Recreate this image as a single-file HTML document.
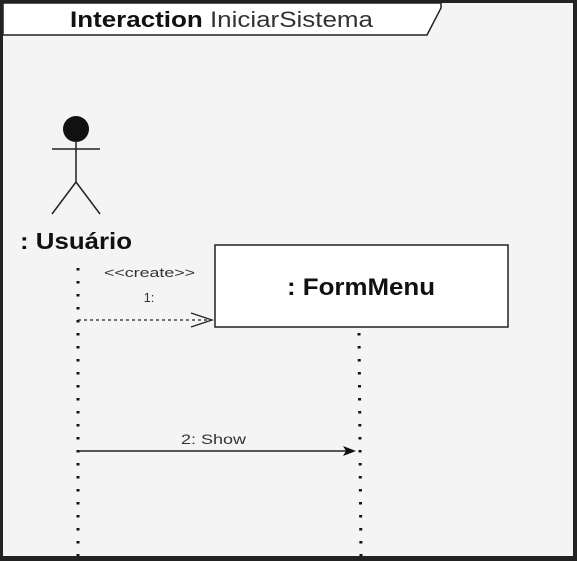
<!DOCTYPE html>
<html><head><style>
html,body{margin:0;padding:0;background:#222;}
svg{display:block;}
</style></head><body>
<svg width="577" height="561" xmlns="http://www.w3.org/2000/svg" font-family="Liberation Sans, sans-serif">
<rect x="0" y="0" width="577" height="561" fill="#222"/>
<rect x="3" y="3" width="570" height="553" fill="#f4f4f4"/>
<polygon points="3,3 441,3 441,8 427,35 3,35" fill="#fff" stroke="#222" stroke-width="1.5"/>
<text x="70" y="27" font-size="22" fill="#111" textLength="303" lengthAdjust="spacingAndGlyphs"><tspan font-weight="bold">Interaction</tspan> <tspan fill="#333">IniciarSistema</tspan></text>
<!-- actor -->
<circle cx="76" cy="129" r="13" fill="#111"/>
<line x1="52" y1="149" x2="100" y2="149" stroke="#222" stroke-width="1.5"/>
<line x1="76" y1="140" x2="76" y2="182" stroke="#222" stroke-width="1.5"/>
<line x1="76" y1="182" x2="52" y2="214" stroke="#222" stroke-width="1.5"/>
<line x1="76" y1="182" x2="100" y2="214" stroke="#222" stroke-width="1.5"/>
<text x="20" y="249" font-size="23" font-weight="bold" fill="#111" textLength="112" lengthAdjust="spacingAndGlyphs">: Usuário</text>
<!-- lifelines -->
<line x1="78" y1="268" x2="78" y2="556" stroke="#111" stroke-width="3" stroke-dasharray="2.5 10.5"/>
<line x1="359" y1="333" x2="361" y2="556" stroke="#111" stroke-width="3" stroke-dasharray="2.5 10.5"/>
<!-- box -->
<rect x="215" y="245" width="293" height="82" fill="#fff" stroke="#222" stroke-width="1.5"/>
<text x="287" y="295" font-size="24" font-weight="bold" fill="#111" textLength="148" lengthAdjust="spacingAndGlyphs">: FormMenu</text>
<!-- create -->
<text x="104" y="277" font-size="13" fill="#333" textLength="91" lengthAdjust="spacingAndGlyphs">&lt;&lt;create&gt;&gt;</text>
<text x="149" y="302" font-size="13" text-anchor="middle" fill="#333">1:</text>
<line x1="78" y1="320" x2="212" y2="320" stroke="#222" stroke-width="1.3" stroke-dasharray="3 3"/>
<polyline points="191,313 212,320 191,327" fill="none" stroke="#222" stroke-width="1.3"/>
<!-- show -->
<text x="181" y="444" font-size="14" fill="#333" textLength="65" lengthAdjust="spacingAndGlyphs">2: Show</text>
<line x1="78" y1="451" x2="350" y2="451" stroke="#222" stroke-width="1.5"/>
<polygon points="356,451 343,446 346,451 343,456" fill="#111"/>
</svg>
</body></html>
